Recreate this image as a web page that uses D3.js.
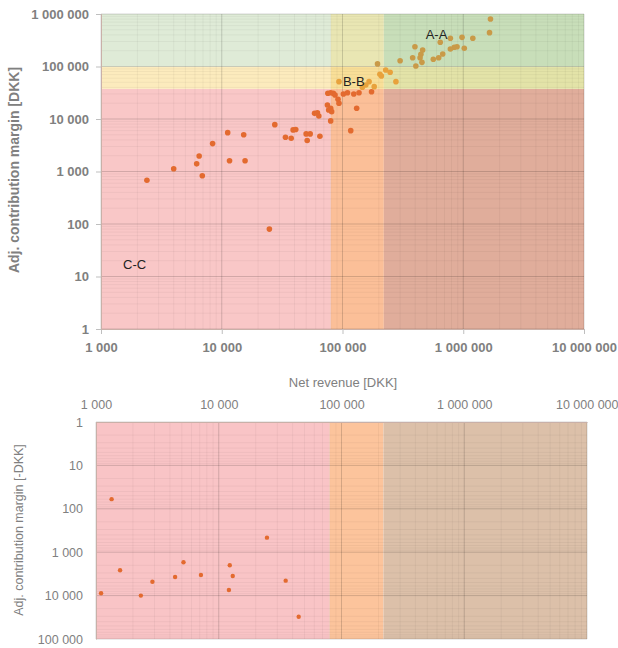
<!DOCTYPE html>
<html>
<head>
<meta charset="utf-8">
<script src="https://cdn.jsdelivr.net/npm/d3@7"></script>
<style>
  body { margin: 0; background: #fff; }
  svg { font-family: "Liberation Sans", Arial, sans-serif; }
</style>
</head>
<body>
<div id="chart-area"></div>
<script>
// upper chart: positive contribution margin
var revenueTop = [2400, 4000, 6200, 6500, 6900, 8400, 11200, 11600, 15200, 15600,
  24800, 27500, 33700, 37600, 39000, 41000, 50000, 54000, 51000, 65000,
  58700, 62000, 63700, 75000, 76800, 79800, 81300, 79800, 75600, 79800,
  84000, 86700, 91800, 93500, 101700, 110000, 124000, 137000, 131000, 117000,
  174000, 93500, 156000, 166000, 183000, 146000, 204000, 210000, 228000, 248000,
  277000, 195000, 300000, 1680000, 1650000, 1200000, 977000, 782000, 645000, 1020000,
  888000, 843000, 782000, 676000, 626000, 565000, 398000, 461000, 446000, 439000,
  381000, 455000, 405000];
var marginTop = [680, 1130, 1400, 1970, 830, 3400, 5500, 1600, 5000, 1600,
  80, 7800, 4500, 4300, 6200, 6300, 5200, 5200, 3900, 4700,
  12800, 13100, 11400, 18500, 14800, 16000, 13800, 9200, 30900, 31700,
  30900, 28600, 23700, 19900, 29900, 31700, 30000, 31700, 16000, 6000,
  33100, 51400, 44400, 51400, 41300, 40200, 71000, 66000, 85800, 77600,
  51400, 112000, 129000, 803000, 441000, 345000, 359000, 345000, 289000, 222000,
  238000, 232000, 215000, 173000, 147000, 137000, 238000, 206000, 171000, 147000,
  147000, 120000, 102000];

// lower chart: negative contribution margin (shown as -DKK)
var revenueBottom = [1340, 1100, 1570, 2320, 2880, 4410, 5160, 7160, 12300, 13000, 12100, 24700, 35100, 44800];
var marginBottom = [60, 8850, 2610, 10000, 4780, 3730, 1710, 3350, 2000, 3530, 7430, 462, 4530, 30600];

var revenueLimits = [80000, 220000];
var marginLimits = [37500, 100000];

var xTicks = [1e3, 1e4, 1e5, 1e6, 1e7];
var yTicksTop = [1, 10, 100, 1e3, 1e4, 1e5, 1e6];
var yTicksBottom = [1, 10, 100, 1e3, 1e4, 1e5];

var segments = [
  {label: "A-A", x: 600000, y: 400000},
  {label: "B-B", x: 124000, y: 52000},
  {label: "C-C", x: 1900, y: 17}
];

// cell fills [margin row: low, mid, high][revenue column: low, mid, high]
var cellColors = [
  ["#f9c7c7", "#fbbf98", "#e0ad9b"],
  ["#fcebbd", "#f9df98", "#e3e3a8"],
  ["#dfebd7", "#e9e6b3", "#c8deb9"]
];
var dotColors = ["#e36a2f", "#e8a23c", "#c99a48"];
var bottomCells = ["#f9c4c6", "#fcc49c", "#dcc0a9"];

var locale = d3.formatLocale({decimal: ".", thousands: " ", grouping: [3], currency: ["", ""]});
var fmt = locale.format(",");

var svg = d3.select("#chart-area").append("svg")
  .attr("width", 618)
  .attr("height", 648);

function minorTicks(domain) {
  var out = [];
  for (var e = Math.round(Math.log10(domain[0])); e < Math.round(Math.log10(domain[1])); e++) {
    for (var m = 1; m < 10; m++) out.push(m * Math.pow(10, e));
  }
  out.push(domain[1]);
  return out;
}

function isMajor(d) { return Math.abs(Math.log10(d) % 1) < 1e-9; }

function grid(g, x, y) {
  g.selectAll(".vx").data(minorTicks(x.domain())).enter().append("line")
    .attr("x1", d => x(d)).attr("x2", d => x(d))
    .attr("y1", y.range()[0]).attr("y2", y.range()[1])
    .attr("stroke", "#000")
    .attr("stroke-opacity", d => isMajor(d) ? 0.2 : 0.06)
    .attr("stroke-width", 0.8);
  g.selectAll(".hy").data(minorTicks(y.domain())).enter().append("line")
    .attr("x1", x.range()[0]).attr("x2", x.range()[1])
    .attr("y1", d => y(d)).attr("y2", d => y(d))
    .attr("stroke", "#000")
    .attr("stroke-opacity", d => isMajor(d) ? 0.2 : 0.06)
    .attr("stroke-width", 0.8);
}

function styleAxis(sel, bold, size) {
  sel.select(".domain").attr("stroke", "#c9b0a8");
  sel.selectAll(".tick line").attr("stroke", "#bfbfbf");
  sel.selectAll(".tick text")
    .attr("fill", "#808080")
    .attr("font-size", size + "px")
    .attr("font-weight", bold ? "bold" : "normal")
    .attr("font-family", "'Liberation Sans', Arial, sans-serif");
}

// ---------- upper chart ----------
var x = d3.scaleLog().domain([1e3, 1e7]).range([101, 584]);
var y = d3.scaleLog().domain([1, 1e6]).range([329, 14]);

var xEdges = [1e3].concat(revenueLimits, [1e7]);
var yEdges = [1].concat(marginLimits, [1e6]);

var g1 = svg.append("g");
var cells = [];
for (var r = 0; r < 3; r++) for (var c = 0; c < 3; c++) cells.push({r: r, c: c});
g1.selectAll(".cell").data(cells).enter().append("rect")
  .attr("x", d => x(xEdges[d.c]))
  .attr("width", d => x(xEdges[d.c + 1]) - x(xEdges[d.c]))
  .attr("y", d => y(yEdges[d.r + 1]))
  .attr("height", d => y(yEdges[d.r]) - y(yEdges[d.r + 1]))
  .attr("fill", d => cellColors[d.r][d.c]);

grid(g1, x, y);

var xAxisTop = g1.append("g")
  .attr("transform", "translate(0,329)")
  .call(d3.axisBottom(x).tickValues(xTicks).tickFormat(fmt).tickSize(5).tickPadding(9));
styleAxis(xAxisTop, true, 13);

var yAxisTop = g1.append("g")
  .attr("transform", "translate(101,0)")
  .call(d3.axisLeft(y).tickValues(yTicksTop).tickFormat(fmt).tickSize(5).tickPadding(7));
styleAxis(yAxisTop, true, 13);

g1.selectAll("circle").data(revenueTop).enter().append("circle")
  .attr("cx", d => x(d))
  .attr("cy", (d, i) => y(marginTop[i]))
  .attr("r", 2.8)
  .attr("fill", (d, i) => dotColors[d3.bisectRight(marginLimits, marginTop[i])]);

g1.selectAll(".seg").data(segments).enter().append("text")
  .attr("x", d => x(d.x))
  .attr("y", d => y(d.y))
  .attr("text-anchor", "middle")
  .attr("dy", "0.35em")
  .attr("font-size", "13px")
  .attr("fill", "#222")
  .text(d => d.label);

svg.append("text")
  .attr("transform", "translate(19,170) rotate(-90)")
  .attr("text-anchor", "middle")
  .attr("font-size", "14px")
  .attr("font-weight", "bold")
  .attr("fill", "#808080")
  .text("Adj. contribution margin [DKK]");

svg.append("text")
  .attr("x", 343)
  .attr("y", 387)
  .attr("text-anchor", "middle")
  .attr("font-size", "13px")
  .attr("fill", "#808080")
  .text("Net revenue [DKK]");

// ---------- lower chart ----------
var x2 = d3.scaleLog().domain([1e3, 1e7]).range([96, 587]);
var y2 = d3.scaleLog().domain([1, 1e5]).range([422, 639]);

var g2 = svg.append("g");
g2.selectAll(".cell").data([0, 1, 2]).enter().append("rect")
  .attr("x", d => x2(xEdges[d]))
  .attr("width", d => x2(xEdges[d + 1]) - x2(xEdges[d]))
  .attr("y", 422)
  .attr("height", y2(1e5) - y2(1))
  .attr("fill", d => bottomCells[d]);

grid(g2, x2, y2);

var xAxisBot = g2.append("g")
  .attr("transform", "translate(0,422)")
  .call(d3.axisTop(x2).tickValues(xTicks).tickFormat(fmt).tickSize(0).tickPadding(13));
styleAxis(xAxisBot, false, 12.5);
xAxisBot.selectAll(".tick text").filter(d => d === 1e7).attr("text-anchor", "end").attr("x", 31);

var yAxisBot = g2.append("g")
  .attr("transform", "translate(96,0)")
  .call(d3.axisLeft(y2).tickValues(yTicksBottom).tickFormat(fmt).tickSize(0).tickPadding(13));
styleAxis(yAxisBot, false, 12.5);

g2.selectAll("circle").data(revenueBottom).enter().append("circle")
  .attr("cx", d => x2(d))
  .attr("cy", (d, i) => y2(marginBottom[i]))
  .attr("r", 2.2)
  .attr("fill", dotColors[0]);

svg.append("text")
  .attr("transform", "translate(23,530) rotate(-90)")
  .attr("text-anchor", "middle")
  .attr("font-size", "12.5px")
  .attr("fill", "#808080")
  .text("Adj. contribution margin [-DKK]");
</script>
</body>
</html>
